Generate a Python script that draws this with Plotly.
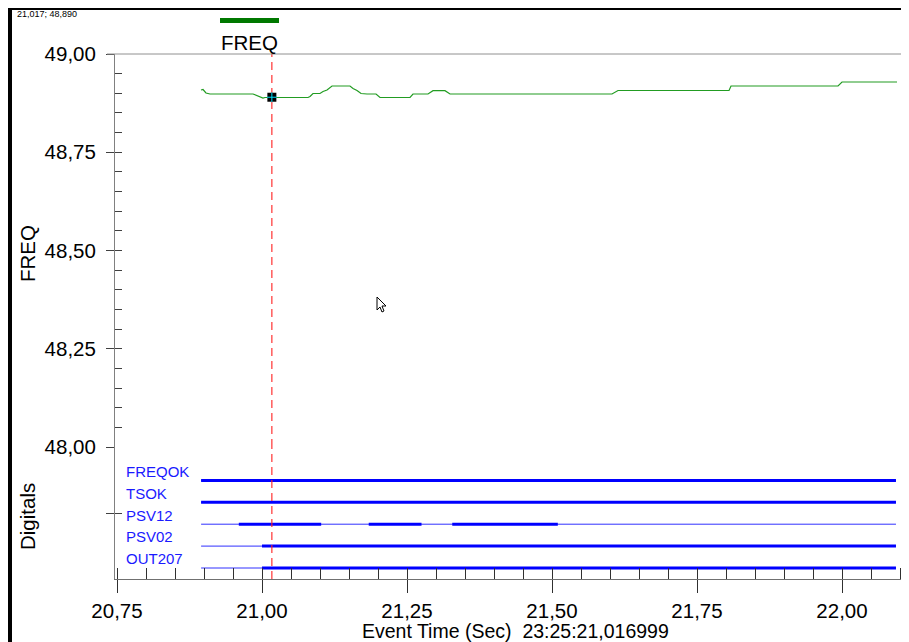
import plotly.graph_objects as go

# ---------------- data ----------------
freq_time = [20.8948, 20.8983, 20.9034, 20.9103, 20.9845, 20.9931, 21.0017, 21.0052,
             21.0793, 21.0828, 21.0879, 21.1000, 21.1052, 21.1121, 21.1207, 21.1517,
             21.1569, 21.1638, 21.1707, 21.1810, 21.1966, 21.2034, 21.2552, 21.2603,
             21.2862, 21.2948, 21.3155, 21.3241, 21.6034, 21.6138, 21.8052, 21.8086,
             21.9931, 22.0000, 22.0948]
freq_value = [48.9084, 48.9097, 48.9008, 48.8982, 48.8982, 48.8931, 48.8880, 48.8893,
              48.8893, 48.8918, 48.8995, 48.8995, 48.9046, 48.9084, 48.9186, 48.9186,
              48.9122, 48.9071, 48.8995, 48.8982, 48.8982, 48.8893, 48.8893, 48.8982,
              48.8982, 48.9066, 48.9066, 48.8982, 48.8982, 48.9071, 48.9071, 48.9186,
              48.9186, 48.9288, 48.9288]

cursor_time = 21.017
cursor_value = 48.890

digital_names = ["FREQOK", "TSOK", "PSV12", "PSV02", "OUT207"]
digital_levels = [4, 3, 2, 1, 0]
digital_start = 20.895
digital_end = 22.093
freqok_high = [(20.895, 22.093)]
tsok_high = [(20.895, 22.093)]
psv12_high = [(20.960, 21.102), (21.184, 21.275), (21.328, 21.510)]
psv02_high = [(21.000, 22.093)]
out207_high = [(21.000, 22.093)]
digital_high = [freqok_high, tsok_high, psv12_high, psv02_high, out207_high]

freq_ticks = [48.00, 48.25, 48.50, 48.75, 49.00]
time_ticks = [20.75, 21.00, 21.25, 21.50, 21.75, 22.00]
digital_ticks = [2.5]

x_range = [20.74655, 22.1034]
freq_range = [48.0, 49.0]
digital_range = [-0.502, 5.525]

x_title = "Event Time (Sec)  23:25:21,016999"
legend_name = "FREQ"

# ---------------- layout geometry (page pixels) ----------------
WIN_W, WIN_H = 909, 642
OFF = 8                      # default page body margin
W, H = WIN_W - OFF, WIN_H - OFF
L, R, T, B = 115, 902, 54, 579   # plot box in page pixels
split_px = 447
PW, PH = R - L, B - T
split = (B - split_px) / PH


def px(xp):
    return (xp - L) / PW


def py(yp):
    return (B - yp) / PH


FONT = "Arial, Liberation Sans, sans-serif"
BIG = 20.5
BLUE = "#0000ff"
RED = "#ff2020"

fig = go.Figure()

# digital channels
for name, lvl, segs in zip(digital_names, digital_levels, digital_high):
    fig.add_trace(go.Scatter(x=[digital_start, digital_end], y=[lvl, lvl], mode="lines",
                             line=dict(color="#3030ff", width=1), xaxis="x", yaxis="y2",
                             hoverinfo="skip", showlegend=False))
    xs, ys = [], []
    for a, b in segs:
        xs += [a, b, None]
        ys += [lvl, lvl, None]
    fig.add_trace(go.Scatter(x=xs, y=ys, mode="lines", line=dict(color=BLUE, width=3),
                             xaxis="x", yaxis="y2", hoverinfo="skip", showlegend=False))
    fig.add_annotation(x=px(124), xref="paper", y=lvl + 0.42, yref="y2", text=name,
                       showarrow=False, xanchor="left", yanchor="middle",
                       font=dict(family=FONT, size=15, color="#1a1aff"))

# cursor line (red dashed)
fig.add_trace(go.Scatter(x=[cursor_time, cursor_time], y=digital_range, mode="lines",
                         line=dict(color=RED, width=1.1, dash="8px,5px"),
                         xaxis="x", yaxis="y2", hoverinfo="skip", showlegend=False))
fig.add_trace(go.Scatter(x=[cursor_time, cursor_time], y=freq_range, mode="lines",
                         line=dict(color=RED, width=1.1, dash="8px,5px"),
                         xaxis="x", yaxis="y", hoverinfo="skip", showlegend=False))

# frequency line
fig.add_trace(go.Scatter(x=freq_time, y=freq_value, mode="lines",
                         line=dict(color="#229c22", width=1.2),
                         xaxis="x", yaxis="y", showlegend=False))

# cursor marker
fig.add_trace(go.Scatter(x=[cursor_time], y=[cursor_value], mode="markers",
                         marker=dict(symbol="square", size=9, color="#000000"),
                         xaxis="x", yaxis="y", showlegend=False, hoverinfo="skip"))
fig.add_trace(go.Scatter(x=[cursor_time], y=[cursor_value], mode="markers",
                         marker=dict(symbol="cross-thin", size=7,
                                     line=dict(color="#00e0ff", width=1)),
                         xaxis="x", yaxis="y", showlegend=False, hoverinfo="skip"))

# invisible traces to activate overlay axes
for xa, ya in [("x2", "y2"), ("x", "y3"), ("x", "y4")]:
    fig.add_trace(go.Scatter(x=[None], y=[None], xaxis=xa, yaxis=ya,
                             showlegend=False, hoverinfo="skip"))

axis_common = dict(showgrid=False, zeroline=False)

fig.update_layout(
    width=W, height=H,
    margin=dict(l=L - OFF, r=WIN_W - R, t=T - OFF, b=WIN_H - B),
    paper_bgcolor="white", plot_bgcolor="white",
    separators=",.",
    font=dict(family=FONT, color="#000000"),
    xaxis=dict(range=x_range, anchor="y2", tickvals=time_ticks, tickformat=".2f",
               ticks="outside", ticklen=13, tickcolor="#303030", tickwidth=1,
               showline=True, linecolor="#707070", linewidth=1,
               tickfont=dict(size=BIG, family=FONT), ticklabelstandoff=0, **axis_common),
    xaxis2=dict(range=x_range, overlaying="x", anchor="y2", side="bottom",
                tick0=20.75, dtick=0.05, ticks="inside", ticklen=11, tickcolor="#303030",
                showticklabels=False, showline=False, **axis_common),
    yaxis=dict(range=freq_range, domain=[split, 1], anchor="x", tickvals=freq_ticks,
               tickformat=".2f", ticks="outside", ticklen=8, tickcolor="#404040",
               showline=True, linecolor="#808080", linewidth=1,
               tickfont=dict(size=BIG, family=FONT), ticklabelstandoff=6, **axis_common),
    yaxis3=dict(range=freq_range, overlaying="y", anchor="x", side="left",
                tick0=48, dtick=0.05, ticks="inside", ticklen=7, tickcolor="#404040",
                showticklabels=False, showline=False, **axis_common),
    yaxis2=dict(range=digital_range, domain=[0, split], anchor="x", tickvals=digital_ticks,
                ticks="outside", ticklen=8, tickcolor="#404040", showticklabels=False,
                showline=True, linecolor="#808080", linewidth=1, **axis_common),
    yaxis4=dict(range=digital_range, overlaying="y2", anchor="x", side="left",
                tickvals=digital_ticks, ticks="inside", ticklen=7, tickcolor="#404040",
                showticklabels=False, showline=False, **axis_common),
)

# axis titles
fig.add_annotation(x=px(27), y=py(254), xref="paper", yref="paper", text="FREQ",
                   textangle=-90, showarrow=False, xanchor="center", yanchor="middle",
                   font=dict(size=BIG, family=FONT))
fig.add_annotation(x=px(27), y=py(517), xref="paper", yref="paper", text="Digitals",
                   textangle=-90, showarrow=False, xanchor="center", yanchor="middle",
                   font=dict(size=BIG, family=FONT))
fig.add_annotation(x=px(516), y=py(631), xref="paper", yref="paper", text=x_title,
                   showarrow=False, xanchor="center", yanchor="middle",
                   font=dict(size=19.5, family=FONT))

# legend (bar + label)
fig.add_shape(type="rect", xref="paper", yref="paper", x0=px(220), x1=px(279),
              y0=py(23), y1=py(18), fillcolor="#007800", line=dict(width=0))
fig.add_annotation(x=px(249), y=py(43), xref="paper", yref="paper", text=legend_name,
                   showarrow=False, xanchor="center", yanchor="middle",
                   font=dict(size=BIG, family=FONT))

# cursor readout
readout = f"{cursor_time:.3f}; {cursor_value:.3f}".replace(".", ",")
fig.add_annotation(x=px(15), y=py(14), xref="paper", yref="paper", text=readout,
                   showarrow=False, xanchor="left", yanchor="middle",
                   font=dict(size=9, family=FONT))

# top boundary line (extends 49,00 tick across)
fig.add_shape(type="line", xref="paper", yref="paper", x0=px(107), x1=px(WIN_W), y0=1, y1=1,
              line=dict(color="#909090", width=1))

# window frame
fig.add_shape(type="rect", xref="paper", yref="paper", x0=px(8), x1=px(12),
              y0=py(WIN_H), y1=py(8), fillcolor="#000000", line=dict(width=0))
fig.add_shape(type="rect", xref="paper", yref="paper", x0=px(8), x1=px(WIN_W),
              y0=py(10), y1=py(8), fillcolor="#000000", line=dict(width=0))

# mouse pointer
ptr = [(0, 0), (0, 13), (3, 10), (5, 15), (7, 14), (5, 9), (9, 9)]
tx, ty = 377, 297
path = "M " + " L ".join(f"{px(tx + a):.5f},{py(ty + b):.5f}" for a, b in ptr) + " Z"
fig.add_shape(type="path", xref="paper", yref="paper", path=path,
              fillcolor="white", line=dict(color="#000000", width=1))

fig.write_html("out.html")
